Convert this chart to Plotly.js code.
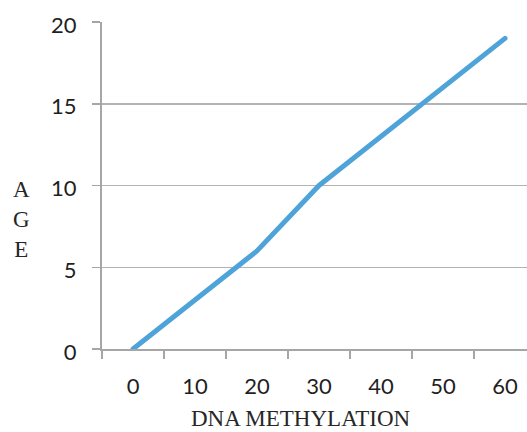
<!DOCTYPE html>
<html>
<head>
<meta charset="utf-8">
<script src="https://cdn.plot.ly/plotly-3.0.1.min.js"></script>
<style>
html,body{margin:0;padding:0;overflow:hidden;background:#fff;}
#chart{width:560px;height:432px;}
#chart .scatterlayer path.js-line{stroke-linecap:round;stroke-linejoin:round;}
</style>
</head>
<body>
<div id="chart"></div>
<script>
// Data
var methylation = ["0", "10", "20", "30", "40", "50", "60"];
var age = [0, 3, 6, 10, 13, 16, 19];
var yTicks = [0, 5, 10, 15, 20];
var xTitle = "DNA METHYLATION";
var yTitle = "A<br>G<br>E";

var trace = {
  x: methylation,
  y: age,
  type: "scatter",
  mode: "lines",
  line: {color: "#4ea3d9", width: 5},
  hoverinfo: "none"
};

var tickFont = {family: "Lato, 'Open Sans', sans-serif", size: 22, color: "#1f1f1f"};
var titleFont = {family: "'Liberation Serif', 'Times New Roman', serif", size: 23, color: "#262626"};

var layout = {
  width: 560,
  height: 432,
  margin: {l: 102, r: 24, t: 22, b: 83},
  paper_bgcolor: "#ffffff",
  plot_bgcolor: "#ffffff",
  showlegend: false,
  xaxis: {
    type: "category",
    range: [-0.5, 6.5],
    tickson: "boundaries",
    ticks: "outside",
    ticklen: 8,
    tickwidth: 1.5,
    tickcolor: "#a6a6a6",
    showgrid: false,
    showline: true,
    linecolor: "#a6a6a6",
    linewidth: 2,
    zeroline: false,
    tickfont: tickFont,
    ticklabelstandoff: 17
  },
  yaxis: {
    range: [0, 20],
    tickvals: yTicks,
    ticktext: yTicks.map(String),
    ticks: "outside",
    ticklen: 8,
    tickwidth: 1.5,
    tickcolor: "#a6a6a6",
    showgrid: true,
    gridcolor: "#b3b3b3",
    gridwidth: 1.5,
    showline: true,
    linecolor: "#a6a6a6",
    linewidth: 2,
    zeroline: false,
    tickfont: tickFont,
    ticklabelstandoff: 11,
    ticklabelshift: 3
  },
  annotations: [
    {
      text: xTitle, xref: "paper", yref: "paper",
      x: 0.4574, y: -0.214, xanchor: "center", yanchor: "middle",
      showarrow: false, font: titleFont
    },
    {
      text: yTitle, xref: "paper", yref: "paper",
      x: -0.1855, y: 0.3945, xanchor: "center", yanchor: "middle",
      showarrow: false, font: titleFont, align: "center"
    }
  ]
};

Plotly.newPlot("chart", [trace], layout, {staticPlot: true, displayModeBar: false});
</script>
</body>
</html>
